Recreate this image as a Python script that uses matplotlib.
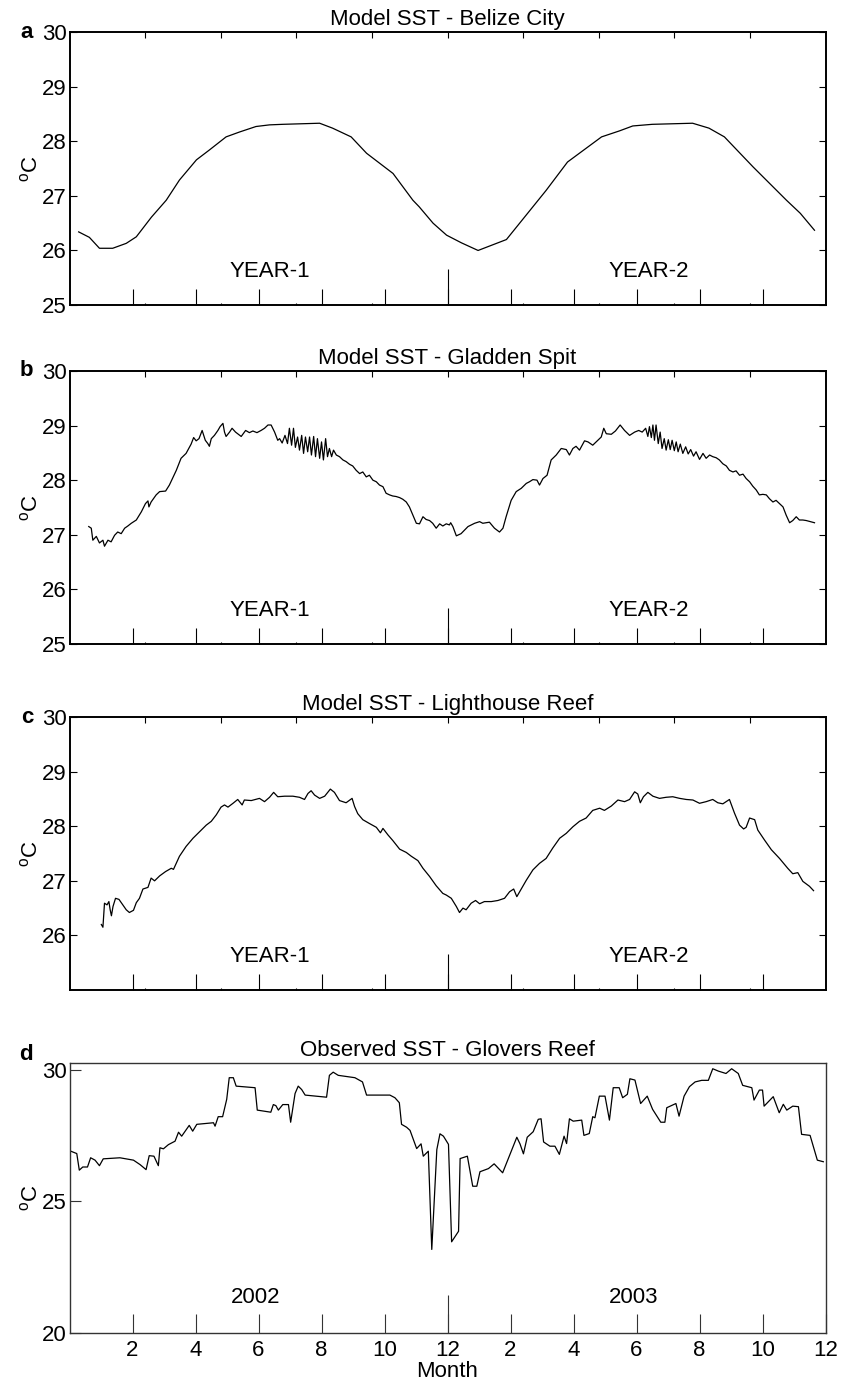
import matplotlib
matplotlib.use("Agg")
import matplotlib.pyplot as plt

plt.rcParams['font.family'] = ['Liberation Sans', 'DejaVu Sans']
plt.rcParams['mathtext.fontset'] = 'custom'
plt.rcParams['mathtext.rm'] = 'Liberation Sans'
plt.rcParams['font.size'] = 16

# months counted from the start of year 1 (0..24)
belize_month = [0.29, 0.63, 0.95, 1.37, 1.80, 2.12, 2.60, 3.07, 3.49, 4.03, 4.44, 4.97, 5.40,
                5.92, 6.35, 6.77, 7.94, 8.35, 8.94, 9.43, 10.27, 10.90, 11.10, 11.54, 11.97,
                12.44, 12.97, 13.87, 14.50, 15.13, 15.81, 16.89, 17.46, 17.88, 18.50, 19.78,
                20.30, 20.79, 21.70, 22.76, 23.20, 23.65]
belize_sst = [26.34, 26.24, 26.04, 26.04, 26.13, 26.25, 26.61, 26.92, 27.29, 27.66, 27.84, 28.08, 28.17,
              28.27, 28.30, 28.31, 28.33, 28.24, 28.08, 27.78, 27.41, 26.92, 26.80, 26.50, 26.28,
              26.14, 26.00, 26.20, 26.65, 27.10, 27.62, 28.08, 28.19, 28.28, 28.31, 28.33,
              28.24, 28.08, 27.53, 26.92, 26.68, 26.37]

gladden_month = [
    0.61, 0.69, 0.74, 0.85, 0.95, 1.06, 1.11, 1.22, 1.32, 1.43, 1.53, 1.64, 1.75, 1.85, 1.96,
    2.12, 2.28, 2.41, 2.49, 2.52, 2.59, 2.75, 2.86, 3.05, 3.17, 3.39, 3.54, 3.70, 3.86, 3.94,
    4.02, 4.11, 4.21, 4.31, 4.39, 4.44, 4.50, 4.60, 4.71, 4.78, 4.87, 4.92, 4.97, 5.08, 5.16,
    5.27, 5.45, 5.59, 5.71, 5.82, 5.95, 6.08, 6.19, 6.30, 6.40, 6.51, 6.61,
    6.67, 6.75, 6.84, 6.92, 6.98, 7.05, 7.11, 7.17, 7.24, 7.30, 7.37, 7.43, 7.49, 7.56, 7.62,
    7.68, 7.75, 7.81, 7.87, 7.94, 8.00, 8.06, 8.13, 8.19, 8.25, 8.32, 8.38, 8.47, 8.57, 8.68,
    8.78, 8.89, 8.99, 9.10, 9.21, 9.31, 9.42, 9.52, 9.63, 9.74, 9.84, 9.95, 10.05, 10.16, 10.26,
    10.37, 10.48, 10.58, 10.69, 10.79, 10.90, 11.01, 11.11, 11.22, 11.32, 11.43, 11.53, 11.64,
    11.75, 11.85, 11.96, 12.06,
    12.10, 12.17, 12.28, 12.43, 12.65, 12.86, 13.02, 13.12, 13.33, 13.49, 13.65, 13.76, 13.86,
    14.02, 14.18, 14.34, 14.50, 14.60, 14.71, 14.84, 14.92, 15.03, 15.16, 15.29, 15.45, 15.61,
    15.77, 15.87, 15.98, 16.08, 16.19, 16.35, 16.46, 16.61, 16.77, 16.88, 16.96, 17.04, 17.20,
    17.33, 17.48, 17.62, 17.78, 17.94, 18.07, 18.18, 18.29,
    18.36, 18.41, 18.47, 18.52, 18.57, 18.62, 18.69, 18.75, 18.81, 18.88, 18.94, 19.01, 19.07,
    19.13, 19.20, 19.26, 19.32, 19.39, 19.47, 19.56, 19.64, 19.72, 19.81, 19.89, 20.00, 20.11,
    20.21, 20.32, 20.42, 20.53, 20.63, 20.74, 20.85, 20.95, 21.06, 21.16, 21.27, 21.38, 21.48,
    21.59, 21.69, 21.80, 21.90, 22.01, 22.12, 22.22, 22.33, 22.43, 22.54, 22.65, 22.75, 22.86,
    22.96, 23.07, 23.17, 23.28, 23.39, 23.65]
gladden_sst = [
    27.15, 27.12, 26.90, 26.97, 26.85, 26.90, 26.79, 26.90, 26.87, 26.99, 27.05, 27.02, 27.12, 27.16, 27.21,
    27.27, 27.42, 27.57, 27.62, 27.51, 27.60, 27.73, 27.79, 27.80, 27.91, 28.18, 28.40, 28.49, 28.66, 28.78,
    28.72, 28.76, 28.91, 28.73, 28.67, 28.62, 28.76, 28.82, 28.91, 28.98, 29.04, 28.88, 28.80, 28.88, 28.95,
    28.88, 28.80, 28.91, 28.87, 28.90, 28.87, 28.91, 28.95, 29.01, 29.01, 28.88, 28.73,
    28.76, 28.68, 28.82, 28.67, 28.95, 28.64, 28.95, 28.60, 28.79, 28.55, 28.82, 28.49, 28.79, 28.52, 28.79,
    28.46, 28.80, 28.43, 28.76, 28.40, 28.70, 28.37, 28.76, 28.43, 28.58, 28.43, 28.55, 28.46, 28.43, 28.37,
    28.34, 28.29, 28.26, 28.18, 28.12, 28.15, 28.06, 28.09, 28.00, 27.97, 27.91, 27.88, 27.76, 27.73, 27.71,
    27.70, 27.68, 27.65, 27.60, 27.51, 27.36, 27.21, 27.20, 27.33, 27.28, 27.26, 27.21, 27.12,
    27.20, 27.16, 27.20, 27.18,
    27.22, 27.15, 26.98, 27.02, 27.15, 27.21, 27.24, 27.21, 27.23, 27.12, 27.05, 27.12, 27.33,
    27.63, 27.79, 27.85, 27.94, 27.97, 28.01, 28.00, 27.91, 28.03, 28.09, 28.37, 28.46, 28.58,
    28.56, 28.46, 28.58, 28.62, 28.55, 28.72, 28.70, 28.64, 28.73, 28.79, 28.95, 28.85, 28.84,
    28.90, 29.01, 28.91, 28.82, 28.88, 28.91, 28.88, 28.95,
    28.80, 28.98, 28.78, 29.01, 28.73, 29.01, 28.67, 28.88, 28.58, 28.76, 28.55, 28.74, 28.56,
    28.73, 28.54, 28.70, 28.52, 28.66, 28.49, 28.61, 28.48, 28.56, 28.44, 28.52, 28.38, 28.49,
    28.40, 28.46, 28.43, 28.41, 28.37, 28.30, 28.26, 28.18, 28.15, 28.17, 28.09, 28.11, 28.03,
    27.97, 27.89, 27.82, 27.73, 27.74, 27.73, 27.66, 27.60, 27.63, 27.57, 27.51, 27.36, 27.22,
    27.26, 27.33, 27.27, 27.27, 27.26, 27.22]

lighthouse_month = [
    1.01, 1.06, 1.11, 1.19, 1.25, 1.29, 1.33, 1.38, 1.46, 1.57, 1.69, 1.80, 1.90, 2.03, 2.12,
    2.22, 2.33, 2.49, 2.59, 2.70, 2.86, 3.05, 3.23, 3.30, 3.49, 3.70, 3.92, 4.13, 4.34, 4.50,
    4.66, 4.81, 4.92, 5.03, 5.19, 5.34, 5.48, 5.55, 5.77, 6.03, 6.19, 6.35, 6.48, 6.61, 6.83,
    7.09, 7.30, 7.46, 7.57, 7.67, 7.78, 7.94, 8.10, 8.28, 8.41, 8.57, 8.78, 8.97, 9.05, 9.15,
    9.31, 9.52, 9.74, 9.87, 9.95, 10.11, 10.26, 10.48, 10.69, 10.85, 11.06, 11.22, 11.43,
    11.64, 11.85,
    11.96, 12.12, 12.28, 12.38, 12.49, 12.59, 12.75, 12.89, 13.02, 13.17, 13.39, 13.60, 13.81,
    13.97, 14.10, 14.20, 14.34, 14.50, 14.71, 14.92, 15.13, 15.34, 15.56, 15.77, 15.98, 16.19,
    16.40, 16.61, 16.83, 16.98, 17.20, 17.41, 17.62, 17.78, 17.94, 18.04, 18.12, 18.22, 18.36,
    18.52, 18.73, 18.94, 19.15, 19.37, 19.58, 19.79, 20.00, 20.21, 20.42, 20.58, 20.74, 20.95,
    21.11, 21.27, 21.40, 21.48, 21.59, 21.75, 21.85, 22.06, 22.28, 22.54, 22.80, 22.96, 23.12,
    23.28, 23.49, 23.62]
lighthouse_sst = [
    26.20, 26.15, 26.59, 26.56, 26.62, 26.47, 26.36, 26.53, 26.68, 26.66, 26.56, 26.47, 26.42, 26.46, 26.60,
    26.68, 26.85, 26.88, 27.05, 27.00, 27.09, 27.17, 27.23, 27.21, 27.45, 27.63, 27.78, 27.90, 28.02, 28.09,
    28.21, 28.35, 28.39, 28.35, 28.42, 28.49, 28.39, 28.48, 28.47, 28.51, 28.45, 28.53, 28.62, 28.54, 28.55,
    28.55, 28.53, 28.49, 28.60, 28.65, 28.57, 28.51, 28.55, 28.68, 28.62, 28.47, 28.43, 28.51, 28.36, 28.23,
    28.12, 28.05, 27.98, 27.88, 27.96, 27.84, 27.74, 27.58, 27.52, 27.45, 27.37, 27.23, 27.08,
    26.91, 26.77,
    26.74, 26.68, 26.53, 26.42, 26.50, 26.47, 26.59, 26.64, 26.58, 26.62, 26.62, 26.64, 26.68,
    26.80, 26.85, 26.71, 26.85, 27.01, 27.20, 27.32, 27.41, 27.60, 27.78, 27.87, 27.99, 28.09,
    28.15, 28.29, 28.33, 28.29, 28.37, 28.48, 28.45, 28.49, 28.63, 28.59, 28.43, 28.54, 28.62,
    28.55, 28.51, 28.53, 28.54, 28.51, 28.49, 28.48, 28.42, 28.45, 28.49, 28.43, 28.41, 28.49,
    28.24, 28.02, 27.95, 27.98, 28.15, 28.12, 27.93, 27.75, 27.57, 27.41, 27.23, 27.13, 27.15,
    26.99, 26.90, 26.82]

# observed record, 2002-2003
glovers_month = [
    0.04, 0.23, 0.31, 0.42, 0.57, 0.67, 0.81, 0.95, 1.07, 1.60, 2.03, 2.24, 2.43, 2.53, 2.68,
    2.82, 2.87, 2.98, 3.14, 3.35, 3.46, 3.56, 3.80, 3.91, 4.04, 4.57, 4.62, 4.72, 4.86, 4.99,
    5.07, 5.20, 5.29, 5.89, 5.96, 6.39, 6.47, 6.55, 6.63, 6.77, 6.95, 7.02, 7.16, 7.26, 7.37,
    7.48, 8.16, 8.25, 8.37, 8.53, 9.06, 9.30, 9.43, 10.17, 10.33, 10.47, 10.54, 10.70, 10.81,
    11.02, 11.16, 11.23, 11.39, 11.50, 11.66, 11.76, 11.87, 12.03, 12.13, 12.35, 12.40, 12.63,
    12.80, 12.93, 13.03, 13.30, 13.48, 13.75, 14.20, 14.30, 14.41, 14.53, 14.72, 14.88, 14.97,
    15.05, 15.25, 15.41, 15.55, 15.70, 15.78, 15.87, 15.99, 16.26, 16.33, 16.50, 16.61, 16.68,
    16.82, 17.00, 17.14, 17.26, 17.45, 17.56, 17.71, 17.79, 17.95, 18.13, 18.34, 18.51, 18.77,
    18.90, 18.96, 19.25, 19.35, 19.51, 19.68, 19.86, 20.07, 20.28, 20.42, 20.60, 20.84, 21.02,
    21.23, 21.37, 21.66, 21.73, 21.90, 22.00, 22.05, 22.34, 22.53, 22.66, 22.77, 22.96, 23.14,
    23.24, 23.51, 23.74, 23.93]
glovers_sst = [
    26.90, 26.81, 26.18, 26.30, 26.30, 26.65, 26.56, 26.35, 26.61, 26.65, 26.56, 26.39, 26.20, 26.73, 26.71,
    26.35, 27.03, 26.99, 27.15, 27.28, 27.62, 27.47, 27.88, 27.66, 27.92, 27.98, 27.85, 28.21, 28.21, 28.87,
    29.69, 29.69, 29.37, 29.31, 28.46, 28.38, 28.67, 28.63, 28.46, 28.67, 28.67, 28.00, 29.09, 29.37, 29.24,
    29.03, 28.95, 29.78, 29.90, 29.78, 29.69, 29.53, 29.03, 29.03, 28.93, 28.74, 27.92, 27.81, 27.69,
    27.00, 27.18, 26.71, 26.90, 23.17, 26.96, 27.56, 27.47, 27.16, 23.46, 23.86, 26.62, 26.71,
    25.57, 25.57, 26.12, 26.24, 26.42, 26.08, 27.43, 27.18, 26.80, 27.43, 27.64, 28.11, 28.13,
    27.25, 27.09, 27.09, 26.78, 27.47, 27.19, 28.13, 28.04, 28.08, 27.50, 27.57, 28.21, 28.17,
    28.99, 28.99, 28.08, 29.31, 29.31, 28.93, 29.06, 29.65, 29.60, 28.71, 28.99, 28.49, 28.00,
    28.00, 28.55, 28.71, 28.23, 28.99, 29.35, 29.53, 29.59, 29.59, 30.03, 29.94, 29.85, 30.03,
    29.85, 29.40, 29.31, 28.84, 29.22, 29.22, 28.61, 28.97, 28.36, 28.68, 28.46, 28.61, 28.59,
    27.54, 27.50, 26.56, 26.50]

month_ticks = [2, 4, 6, 8, 10, 12, 14, 16, 18, 20, 22, 24]
month_labels = ['2', '4', '6', '8', '10', '12', '2', '4', '6', '8', '10', '12']
top_ticks = [2.4, 4.8, 7.2, 9.6, 12.0, 14.4, 16.8, 19.2, 21.6]

fig = plt.figure(figsize=(8.5, 13.81), dpi=100)
left, width = 0.0818, 0.8894


def model_panel(bottom, month, sst, title, letter, yticks):
    ax = fig.add_axes([left, bottom, width, 0.1977])
    ax.plot(month, sst, color='k', lw=0.9)
    ax.set_xlim(0, 24)
    ax.set_ylim(25, 30)
    ax.set_yticks(yticks)
    ax.tick_params(axis='y', direction='in', length=5, width=0.8,
                   left=True, right=True, pad=2)
    ax.set_xticks(month_ticks[:-1])
    ax.set_xticks(top_ticks, minor=True)
    ax.tick_params(axis='x', which='major', direction='in', length=11.5,
                   width=0.8, labelbottom=False)
    ax.tick_params(axis='x', which='minor', direction='in', length=1.2, width=0.8)
    for s in ax.spines.values():
        s.set_linewidth(1.4)

    top = ax.secondary_xaxis('top')
    top.set_xticks(top_ticks)
    top.tick_params(direction='in', length=4.5, width=0.8, labeltop=False)
    mid = ax.secondary_xaxis('bottom')
    mid.set_xticks([12])
    mid.tick_params(direction='in', length=26, width=0.8, labelbottom=False)
    for sec in (top, mid):
        for s in sec.spines.values():
            s.set_visible(False)

    ax.set_title(title, pad=5, fontsize=16)
    ax.set_ylabel(r'$\mathregular{^o}$C', labelpad=0)
    ax.text(-0.048, 1.0, letter, transform=ax.transAxes, ha='right',
            va='center', fontweight='bold')
    ax.text(6.37, 25.62, 'YEAR-1', ha='center', va='center')
    ax.text(18.38, 25.62, 'YEAR-2', ha='center', va='center')
    return ax


model_panel(0.7791, belize_month, belize_sst, 'Model SST - Belize City', 'a',
            [25, 26, 27, 28, 29, 30])
model_panel(0.5337, gladden_month, gladden_sst, 'Model SST - Gladden Spit', 'b',
            [25, 26, 27, 28, 29, 30])
model_panel(0.2831, lighthouse_month, lighthouse_sst, 'Model SST - Lighthouse Reef', 'c',
            [26, 27, 28, 29, 30])

# observed panel
axd = fig.add_axes([left, 0.0348, width, 0.1955])
axd.plot(glovers_month, glovers_sst, color='k', lw=0.9)
axd.set_xlim(0, 24)
axd.set_ylim(20, 30.25)
axd.set_yticks([20, 25, 30])
axd.tick_params(axis='y', direction='in', length=8, width=0.8, left=True,
                right=False, pad=2, color='#333333')
axd.set_xticks(month_ticks)
axd.set_xticklabels(month_labels)
axd.tick_params(axis='x', direction='in', length=13.7, width=0.8, top=False,
                pad=5, color='#333333')
for s in axd.spines.values():
    s.set_linewidth(1.0)
    s.set_color('#333333')
mid = axd.secondary_xaxis('bottom')
mid.set_xticks([12])
mid.tick_params(direction='in', length=27.4, width=0.8, labelbottom=False,
                color='#333333')
for s in mid.spines.values():
    s.set_visible(False)
axd.set_title('Observed SST - Glovers Reef', pad=5, fontsize=16)
axd.set_ylabel(r'$\mathregular{^o}$C', labelpad=0)
axd.set_xlabel('Month', labelpad=0)
axd.text(-0.048, 1.03, 'd', transform=axd.transAxes, ha='right',
         va='center', fontweight='bold')
axd.text(5.9, 21.34, '2002', ha='center', va='center')
axd.text(17.9, 21.34, '2003', ha='center', va='center')

fig.savefig('out.png', dpi=100)
